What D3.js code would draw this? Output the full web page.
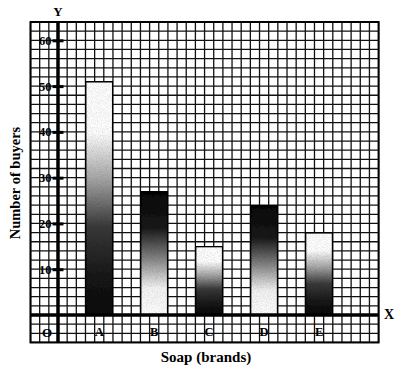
<!DOCTYPE html>
<html>
<head>
<meta charset="utf-8">
<script src="https://cdn.jsdelivr.net/npm/d3@7"></script>
<style>
	body { margin: 0; background: #fff; }
	svg text { font-family: "Liberation Serif", "DejaVu Serif", serif; font-weight: bold; fill: #000; }
</style>
</head>
<body>
<div id="chart"></div>
<script>
// data
const brands = ['A', 'B', 'C', 'D', 'E'];
const buyers = [51, 27, 15, 24, 18];
const shadeTop = ['light', 'dark', 'light', 'dark', 'light'];
const yTickValues = [10, 20, 30, 40, 50, 60];

const width = 406, height = 377;

// grid is measured in cells (1 cell = 2 buyers)
const x = d3.scaleLinear().domain([0, 1]).range([58, 67.16]);
const y = d3.scaleLinear().domain([0, 64]).range([315, 22]);

const svg = d3.select('#chart').append('svg')
	.attr('width', width)
	.attr('height', height);

svg.append('rect').attr('width', width).attr('height', height).attr('fill', '#fff');

// gradients
const defs = svg.append('defs');
const grads = {
	light: [[0, '#fff'], [0.22, '#fff'], [0.42, '#a5a5a5'], [0.62, '#3a3a3a'], [0.85, '#151515'], [1, '#0a0a0a']],
	dark: [[0, '#050505'], [0.3, '#1a1a1a'], [0.55, '#888'], [0.78, '#f4f4f4'], [1, '#fff']]
};
Object.entries(grads).forEach(([name, stops]) => {
	const g = defs.append('linearGradient').attr('id', 'grad-' + name)
		.attr('x1', 0).attr('y1', 0).attr('x2', 0).attr('y2', 1);
	stops.forEach(s => g.append('stop').attr('offset', s[0]).attr('stop-color', s[1]));
});

// speckle texture
const f = defs.append('filter').attr('id', 'grain').attr('x', 0).attr('y', 0).attr('width', 1).attr('height', 1);
f.append('feTurbulence').attr('type', 'fractalNoise').attr('baseFrequency', 1.2).attr('numOctaves', 1).attr('seed', 3).attr('result', 'noise');
f.append('feColorMatrix').attr('in', 'noise').attr('type', 'matrix')
	.attr('values', '0 0 0 0 0  0 0 0 0 0  0 0 0 0 0  0 0 0 0.55 -0.2').attr('result', 'dots');
f.append('feComposite').attr('in', 'dots').attr('in2', 'SourceGraphic').attr('operator', 'atop');

const gLeft = x(-3), gRight = x(35), gTop = y(64), gBottom = y(-6);

// grid lines
const grid = svg.append('g').attr('class', 'grid');
grid.selectAll('.vline')
	.data(d3.range(-3, 36))
	.join('line')
	.attr('x1', d => x(d)).attr('x2', d => x(d))
	.attr('y1', gTop).attr('y2', gBottom)
	.attr('stroke', '#111').attr('stroke-width', 1.3);
grid.selectAll('.hline')
	.data(d3.range(-6, 65, 2))
	.join('line')
	.attr('x1', gLeft).attr('x2', gRight)
	.attr('y1', d => y(d)).attr('y2', d => y(d))
	.attr('stroke', '#111').attr('stroke-width', 1.3);

// bars
const band = d3.scaleBand().domain(brands)
	.range([x(1.5), x(31.5)])
	.paddingInner(0.5).paddingOuter(0.25);

const bars = svg.append('g').attr('class', 'bars');
bars.selectAll('.bar')
	.data(brands.map((b, i) => ({ brand: b, value: buyers[i], shade: shadeTop[i] })))
	.join('rect')
	.attr('class', 'bar')
	.attr('x', d => band(d.brand))
	.attr('y', d => y(d.value))
	.attr('width', band.bandwidth())
	.attr('height', d => y(0) - y(d.value))
	.attr('fill', d => `url(#grad-${d.shade})`)
	.attr('filter', 'url(#grain)')
	.attr('stroke', '#000')
	.attr('stroke-width', 2);

// frame
svg.append('rect')
	.attr('x', gLeft).attr('y', gTop)
	.attr('width', gRight - gLeft).attr('height', gBottom - gTop)
	.attr('fill', 'none').attr('stroke', '#000').attr('stroke-width', 2);

// axes lines
svg.append('line').attr('x1', x(0)).attr('x2', x(0)).attr('y1', gTop).attr('y2', gBottom)
	.attr('stroke', '#000').attr('stroke-width', 3.5);
svg.append('line').attr('x1', gLeft).attr('x2', gRight).attr('y1', y(0)).attr('y2', y(0))
	.attr('stroke', '#000').attr('stroke-width', 3.5);

// y ticks
const yAxis = d3.axisLeft(y).tickValues(yTickValues).tickSize(11).tickPadding(1);
const yAxisG = svg.append('g').attr('transform', `translate(${x(0) + 5.5},0)`).call(yAxis);
yAxisG.select('.domain').remove();
yAxisG.selectAll('.tick line').attr('stroke', '#000').attr('stroke-width', 3);
yAxisG.selectAll('.tick text').style('font-size', '12.5px').attr('font-family', null);

// x category labels
const xAxis = d3.axisBottom(band).tickSize(0).tickPadding(12);
const xAxisG = svg.append('g').attr('transform', `translate(0,${y(0)})`).call(xAxis);
xAxisG.select('.domain').remove();
xAxisG.selectAll('.tick text').style('font-size', '12.5px').attr('font-family', null);

// origin
svg.append('text').attr('x', x(-1.2)).attr('y', y(0) + 22)
	.attr('text-anchor', 'middle').style('font-size', '13px').text('O');

// axis letters
svg.append('text').attr('x', x(0)).attr('y', 16)
	.attr('text-anchor', 'middle').style('font-size', '13px').text('Y');
svg.append('text').attr('x', 389).attr('y', y(0) + 4)
	.attr('text-anchor', 'middle').style('font-size', '14px').text('X');

// axis titles
svg.append('text')
	.attr('transform', 'translate(20,183) rotate(-90)')
	.attr('text-anchor', 'middle').style('font-size', '14.5px')
	.text('Number of buyers');
svg.append('text').attr('x', 206).attr('y', 362)
	.attr('text-anchor', 'middle').style('font-size', '15px')
	.text('Soap (brands)');
</script>
</body>
</html>
